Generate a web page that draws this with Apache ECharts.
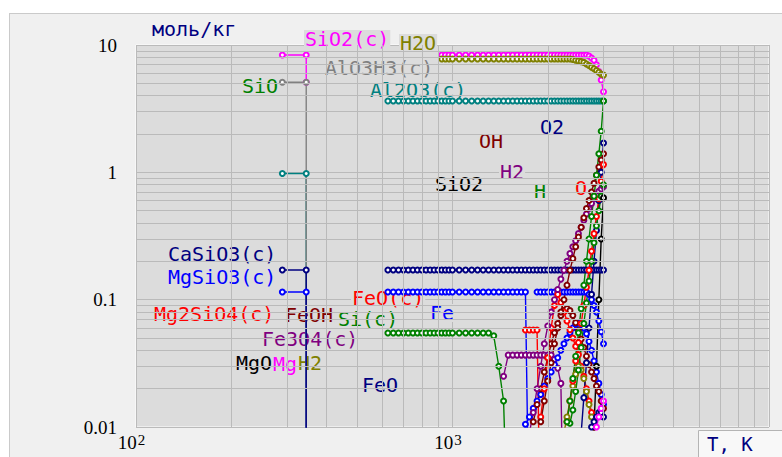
<!DOCTYPE html>
<html>
<head>
<meta charset="utf-8">
<style>
  html, body { margin: 0; padding: 0; background: #fff; }
  #panel { position: absolute; left: 9px; top: 13px; width: 772px; height: 443px; background: #f0f0f0; border: 1px solid #cacaca; }
  #chart { position: absolute; left: 0; top: 0; width: 782px; height: 457px; }
</style>
<script src="https://cdn.jsdelivr.net/npm/echarts@6.0.0/dist/echarts.min.js"></script>
</head>
<body>
<div id="panel"></div>
<div id="chart"></div>
<script>
const _ = null;

// temperatures, K
const T_LOW = [290, 345, 345];
const T_HIGH = [
  625, 650, 675, 700, 725, 750, 775, 800, 825, 850, 875, 900, 925, 950, 975, 1000,
  1050, 1100, 1150, 1200, 1250, 1300, 1350, 1400, 1450, 1500, 1550, 1600, 1650, 1700, 1750, 1800, 1850, 1900, 1950, 2000,
  2050, 2100, 2150, 2200, 2250, 2300, 2350, 2400, 2450, 2500, 2550, 2600, 2650, 2700, 2750, 2800, 2850, 2900, 2950, 3000
];

// low temperature group, mol/kg (0.001 = gone, below the chart)
const LOW_AL2O3 = [0.98, 0.98, 0.001];
const LOW_MGSIO3 = [0.115, 0.115, 0.001];
const LOW_SIO2_C = [8.34, 8.34, 5.1];
const LOW_ALO3H3 = [5.1, 5.1, 0.001];
const LOW_CASIO3 = [0.171, 0.171, 0.001];

// high temperature group, mol/kg
const AL2O3_C = [
  3.63, 3.63, 3.63, 3.63, 3.63, 3.63, 3.63, 3.63, 3.63, 3.63, 3.63, 3.63, 3.63, 3.63, 3.63, 3.63,
  3.63, 3.63, 3.63, 3.63, 3.63, 3.63, 3.63, 3.63, 3.63, 3.63, 3.63, 3.63, 3.63, 3.63, 3.63, 3.63, 3.63, 3.63, 3.63, 3.63,
  3.63, 3.63, 3.63, 3.63, 3.63, 3.63, 3.63, 3.63, 3.63, 3.63, 3.63, 3.63, 3.63, 3.63, 3.63, 3.63, 3.63, 3.63, 3.63, 3.63
];
const SIO2_C = [
  _, _, _, _, _, _, _, _, _, _, _, _, 8.34, 8.34, 8.34, 8.34,
  8.34, 8.34, 8.34, 8.34, 8.34, 8.34, 8.34, 8.34, 8.34, 8.34, 8.34, 8.34, 8.34, 8.34, 8.34, 8.34, 8.34, 8.34, 8.34, 8.34,
  8.34, 8.34, 8.34, 8.34, 8.34, 8.34, 8.34, 8.34, 8.34, 8.34, 8.34, 8.34, 8.34, 8.2, 7.9, 7.6, 7.0, 6.2, 5.3, 4.3
];
const H2O = [
  _, _, _, _, _, _, _, _, _, _, _, _, 7.76, 7.76, 7.76, 7.76,
  7.76, 7.76, 7.76, 7.76, 7.76, 7.76, 7.76, 7.76, 7.76, 7.76, 7.76, 7.76, 7.76, 7.76, 7.76, 7.76, 7.76, 7.76, 7.76, 7.76,
  7.76, 7.76, 7.76, 7.76, 7.76, 7.76, 7.76, 7.7, 7.6, 7.5, 7.4, 7.3, 7.1, 6.9, 6.7, 6.5, 6.3, 6.1, 5.9, 5.8
];
const CASIO3_C = [
  0.171, 0.171, 0.171, 0.171, 0.171, 0.171, 0.171, 0.171, 0.171, 0.171, 0.171, 0.171, 0.171, 0.171, 0.171, 0.171,
  0.171, 0.171, 0.171, 0.171, 0.171, 0.171, 0.171, 0.171, 0.171, 0.171, 0.171, 0.171, 0.171, 0.171, 0.171, 0.171, 0.171, 0.171, 0.171, 0.171,
  0.171, 0.171, 0.171, 0.171, 0.171, 0.171, 0.171, 0.171, 0.171, 0.171, 0.171, 0.171, 0.171, 0.171, 0.171, 0.171, 0.171, 0.171, 0.171, 0.171
];
const MGSIO3_C = [
  0.115, 0.115, 0.115, 0.115, 0.115, 0.115, 0.115, 0.115, 0.115, 0.115, 0.115, 0.115, 0.115, 0.115, 0.115, 0.115,
  0.115, 0.115, 0.115, 0.115, 0.115, 0.115, 0.115, 0.115, 0.115, 0.115, 0.115, 0.115, 0.115, 0.115, 0.001, _, 0.115, 0.115, 0.115, 0.115,
  0.115, 0.115, 0.115, 0.115, 0.115, 0.115, 0.115, 0.115, 0.115, 0.115, 0.115, 0.115, 0.115, 0.11, 0.1, 0.09, 0.08, 0.068, 0.056, 0.045
];
const SI_C = [
  0.0547, 0.0547, 0.0547, 0.0547, 0.0547, 0.0547, 0.0547, 0.0547, 0.0547, 0.0547, 0.0547, 0.0547, 0.0547, 0.0547, 0.0547, 0.0547,
  0.0547, 0.0547, 0.0547, 0.0547, 0.0547, 0.0547, 0.052, 0.03, 0.016, 0.001
];
const FEO_C = [
  _, _, _, _, _, _, _, _, _, _, _, _, _, _, _, _,
  _, _, _, _, _, _, _, _, _, _, _, _, _, 0.0577, 0.0577, 0.0577, 0.0577, 0.001
];
const FE3O4_C = [
  _, _, _, _, _, _, _, _, _, _, _, _, _, _, _, _,
  _, _, _, _, _, _, _, _, 0.025, 0.0367, 0.0367, 0.0367, 0.0367, 0.0367, 0.0367, 0.0367, 0.0367, 0.0367, 0.0367, 0.0367,
  0.0367, 0.034, 0.029, 0.022, 0.001
];
const FE = [
  _, _, _, _, _, _, _, _, _, _, _, _, _, _, _, _,
  _, _, _, _, _, _, _, _, _, _, _, _, _, 0.0105, 0.012, 0.014, 0.016, 0.018, 0.021, 0.024,
  0.027, 0.031, 0.035, 0.04, 0.045, 0.05, 0.055, 0.06, 0.064, 0.066, 0.064, 0.06, 0.054, 0.047, 0.04, 0.033, 0.027, 0.022, 0.018, 0.015
];
const FEOH = [
  _, _, _, _, _, _, _, _, _, _, _, _, _, _, _, _,
  _, _, _, _, _, _, _, _, _, _, _, _, _, _, _, 0.011, 0.015, 0.02, 0.027, 0.035,
  0.045, 0.055, 0.065, 0.075, 0.082, 0.085, 0.082, 0.075, 0.066, 0.057, 0.049, 0.042, 0.036, 0.031, 0.027, 0.024, 0.021, 0.019, 0.016, 0.014
];
const FEO_L = [
  _, _, _, _, _, _, _, _, _, _, _, _, _, _, _, _,
  _, _, _, _, _, _, _, _, _, _, _, _, _, _, _, _, _, 0.012, 0.02, 0.035,
  0.06, 0.09, 0.11, 0.095, 0.08, 0.068, 0.058, 0.05, 0.043, 0.037, 0.03, 0.025, 0.02, 0.016, 0.013, 0.01, 0.008
];
const H2_OLIVE = [
  _, _, _, _, _, _, _, _, _, _, _, _, _, _, _, _,
  _, _, _, _, _, _, _, _, _, _, _, _, _, _, _, _, _, _, _, _,
  _, _, _, _, 0.009, 0.012, 0.016, 0.021, 0.026, 0.03, 0.028, 0.024, 0.019, 0.015, 0.012, 0.0095
];
const H2 = [
  _, _, _, _, _, _, _, _, _, _, _, _, _, _, _, _,
  _, _, _, _, _, _, _, _, _, _, _, _, _, _, 0.009, 0.013, 0.02, 0.03, 0.045, 0.062,
  0.08, 0.1, 0.12, 0.145, 0.17, 0.2, 0.23, 0.26, 0.29, 0.33, 0.37, 0.42, 0.47, 0.52, 0.57, 0.62, 0.67, 0.71, 0.74, 0.77
];
const OH = [
  _, _, _, _, _, _, _, _, _, _, _, _, _, _, _, _,
  _, _, _, _, _, _, _, _, _, _, _, _, _, _, _, _, _, 0.011, 0.016, 0.023,
  0.032, 0.045, 0.06, 0.08, 0.1, 0.13, 0.17, 0.21, 0.26, 0.31, 0.37, 0.44, 0.52, 0.6, 0.7, 0.82, 0.95, 1.1, 1.25, 1.4
];
const O2 = [
  _, _, _, _, _, _, _, _, _, _, _, _, _, _, _, _,
  _, _, _, _, _, _, _, _, _, _, _, _, _, _, _, _, _, _, _, _,
  _, _, _, _, _, _, _, _, _, _, 0.009, 0.017, 0.032, 0.06, 0.11, 0.2, 0.35, 0.6, 1.0, 1.7
];
const O = [
  _, _, _, _, _, _, _, _, _, _, _, _, _, _, _, _,
  _, _, _, _, _, _, _, _, _, _, _, _, _, _, _, _, _, _, _, _,
  _, _, _, _, _, 0.011, 0.016, 0.023, 0.033, 0.046, 0.065, 0.09, 0.125, 0.17, 0.24, 0.33, 0.45, 0.62, 0.85, 1.15
];
const SIO = [
  _, _, _, _, _, _, _, _, _, _, _, _, _, _, _, _,
  _, _, _, _, _, _, _, _, _, _, _, _, _, _, _, _, _, _, _, _,
  _, _, _, _, _, _, 0.0107, 0.0136, 0.019, 0.028, 0.042, 0.065, 0.094, 0.14, 0.2, 0.28, 0.38, 0.5, 0.65, 0.8
];
const SIO2 = [
  _, _, _, _, _, _, _, _, _, _, _, _, _, _, _, _,
  _, _, _, _, _, _, _, _, _, _, _, _, _, _, _, _, _, _, _, _,
  _, _, _, _, _, _, _, _, _, _, _, _, _, _, _, 0.01, 0.03, 0.1, 0.3, 0.63
];
const FEO = [
  _, _, _, _, _, _, _, _, _, _, _, _, _, _, _, _,
  _, _, _, _, _, _, _, _, _, _, _, _, _, _, _, _, _, _, _, _,
  _, _, _, _, _, _, _, _, _, _, _, _, _, 0.009, 0.01, 0.011, 0.012, 0.013, 0.013, 0.012
];
const MG = [
  _, _, _, _, _, _, _, _, _, _, _, _, _, _, _, _,
  _, _, _, _, _, _, _, _, _, _, _, _, _, _, _, _, _, _, _, _,
  _, _, _, _, _, _, _, _, _, _, _, _, _, _, _, 0.009, 0.01, 0.012, 0.014, 0.016
];
const H = [
  _, _, _, _, _, _, _, _, _, _, _, _, _, _, _, _,
  _, _, _, _, _, _, _, _, _, _, _, _, _, _, _, _, _, _, _, _,
  _, _, _, _, _, 0.011, 0.016, 0.024, 0.036, 0.055, 0.085, 0.13, 0.2, 0.3, 0.45, 0.65, 0.95, 1.4, 2.1, 3.63
];

// axis ticks
const X_TICK_EXP = [2, 3];
const Y_TICK_TEXT = ['0.01', '0.1', '1', '10'];
const GRID_X_MINOR = [200, 300, 400, 500, 600, 700, 800, 900, 2000, 3000, 4000, 5000, 6000, 7000, 8000, 9000];
const GRID_Y_MINOR = [0.02, 0.03, 0.04, 0.05, 0.06, 0.07, 0.08, 0.09,
  0.2, 0.3, 0.4, 0.5, 0.6, 0.7, 0.8, 0.9, 2, 3, 4, 5, 6, 7, 8, 9];

const MAGENTA = '#ff00ff', OLIVE = '#808000', GREY = '#808080', TEAL = '#008080',
  NAVY = '#000080', BLUE = '#0000ff', RED = '#ff0000', DARKRED = '#800000',
  GREEN = '#008000', PURPLE = '#800080', BLACK = '#000000';
const PLOT_BG = '#dcdcdc';
const GRID_COLOR = '#bababa';
const MONO = 'DejaVu Sans Mono';

function mk(name, color, temps, vals) {
  return {
    type: 'line',
    name: name,
    data: temps.map((t, i) => [t, vals[i] == null ? null : vals[i]]),
    symbol: 'emptyCircle',
    symbolSize: 5,
    showSymbol: true,
    lineStyle: { color: color, width: 1.4 },
    itemStyle: { color: color, borderWidth: 1.2 },
    silent: true,
    animation: false,
    z: 2
  };
}

const series = [
  {
    type: 'line', data: [], z: 0, silent: true, animation: false,
    markLine: {
      silent: true, animation: false, symbol: ['none', 'none'],
      label: { show: false },
      lineStyle: { color: GRID_COLOR, width: 1, type: 'solid' },
      data: GRID_X_MINOR.map(v => ({ xAxis: v })).concat(GRID_Y_MINOR.map(v => ({ yAxis: v })))
    }
  },
  mk('Al2O3(c) low', TEAL, T_LOW, LOW_AL2O3),
  mk('MgSiO3(c) low', BLUE, T_LOW, LOW_MGSIO3),
  mk('SiO2(c) low', MAGENTA, T_LOW, LOW_SIO2_C),
  mk('AlO3H3(c)', GREY, T_LOW, LOW_ALO3H3),
  mk('CaSiO3(c) low', NAVY, T_LOW, LOW_CASIO3),
  mk('Al2O3(c)', TEAL, T_HIGH, AL2O3_C),
  mk('SiO2(c)', MAGENTA, T_HIGH, SIO2_C),
  mk('H2O', OLIVE, T_HIGH, H2O),
  mk('CaSiO3(c)', NAVY, T_HIGH, CASIO3_C),
  mk('MgSiO3(c)', BLUE, T_HIGH, MGSIO3_C),
  mk('Si(c)', GREEN, T_HIGH, SI_C),
  mk('FeO(c)', RED, T_HIGH, FEO_C),
  mk('Fe3O4(c)', PURPLE, T_HIGH, FE3O4_C),
  mk('Fe', BLUE, T_HIGH, FE),
  mk('FeOH', DARKRED, T_HIGH, FEOH),
  mk('FeO(l)', RED, T_HIGH, FEO_L),
  mk('H2 (olive)', OLIVE, T_HIGH, H2_OLIVE),
  mk('H2', PURPLE, T_HIGH, H2),
  mk('OH', DARKRED, T_HIGH, OH),
  mk('O2', NAVY, T_HIGH, O2),
  mk('O', RED, T_HIGH, O),
  mk('SiO', GREEN, T_HIGH, SIO),
  mk('SiO2', BLACK, T_HIGH, SIO2),
  mk('FeO', NAVY, T_HIGH, FEO),
  mk('Mg', MAGENTA, T_HIGH, MG),
  mk('H', GREEN, T_HIGH, H)
];

// curve labels: text, colour, left x, cap centre y
const LABELS = [
  ['Al2O3(c)', TEAL, 370, 89],
  ['AlO3H3(c)', GREY, 325, 67],
  ['SiO2(c)', MAGENTA, 305, 38],
  ['H2O', OLIVE, 400, 42],
  ['SiO', GREEN, 242, 85],
  ['OH', DARKRED, 479, 140],
  ['O2', NAVY, 540, 126],
  ['H2', PURPLE, 500, 171],
  ['SiO2', BLACK, 435, 183],
  ['H', GREEN, 534, 190],
  ['O', RED, 575, 187],
  ['CaSiO3(c)', NAVY, 168, 253],
  ['MgSiO3(c)', BLUE, 168, 276],
  ['FeO(c)', RED, 352, 297],
  ['Fe', BLUE, 430, 312],
  ['Si(c)', GREEN, 338, 318],
  ['Mg2SiO4(c)', RED, 154, 313],
  ['FeOH', DARKRED, 285, 314],
  ['Fe3O4(c)', PURPLE, 262, 338],
  ['MgO', BLACK, 236, 362],
  ['Mg', MAGENTA, 273, 363],
  ['H2', OLIVE, 298, 362],
  ['FeO', NAVY, 362, 384]
];

const graphic = LABELS.map(l => ({
  type: 'text',
  z: 1,
  silent: true,
  x: l[2] - 1,
  y: l[3] + 1,
  style: {
    text: l[0], fill: l[1], font: '20px "' + MONO + '"',
    align: 'left', verticalAlign: 'middle', lineHeight: 18,
    backgroundColor: PLOT_BG, padding: [0, 1, 0, 1]
  }
}));
graphic.push(
  {
    type: 'text', z: 1, silent: true, x: 152, y: 29,
    style: { text: 'моль/кг', fill: NAVY, font: '20px "' + MONO + '"', align: 'left', verticalAlign: 'middle' }
  },
  {
    type: 'rect', z: 1, silent: true,
    shape: { x: 698.5, y: 430.5, width: 90, height: 30 },
    style: { fill: '#f8f8f8', stroke: '#b4b4b4', lineWidth: 1 }
  },
  {
    type: 'text', z: 2, silent: true, x: 707, y: 444,
    style: { text: 'T, K', fill: NAVY, font: '19px "' + MONO + '"', align: 'left', verticalAlign: 'middle' }
  }
);

const chart = echarts.init(document.getElementById('chart'), null, { renderer: 'svg' });
chart.setOption({
  animation: false,
  backgroundColor: 'transparent',
  grid: {
    left: 136, top: 45, width: 633, height: 382,
    show: true, backgroundColor: PLOT_BG, borderColor: '#ffffff', borderWidth: 1,
    containLabel: false
  },
  xAxis: {
    type: 'log', logBase: 10, min: 100, max: 10000,
    axisLine: { show: false }, axisTick: { show: false },
    splitLine: { show: true, lineStyle: { color: GRID_COLOR, width: 1 } },
    axisLabel: {
      margin: 5,
      padding: [0, 9, 0, 0],
      formatter: function (v) {
        const e = Math.round(Math.log10(v));
        return X_TICK_EXP.indexOf(e) < 0 ? '' : '{b|10}{s|' + e + '}';
      },
      rich: {
        b: { fontFamily: 'Liberation Serif', fontSize: 19, color: '#000', lineHeight: 20, verticalAlign: 'bottom' },
        s: { fontFamily: 'Liberation Serif', fontSize: 15, color: '#000', lineHeight: 14, verticalAlign: 'top', padding: [0, 0, 0, 1] }
      }
    }
  },
  yAxis: {
    type: 'log', logBase: 10, min: 0.01, max: 10,
    axisLine: { show: false }, axisTick: { show: false },
    splitLine: { show: true, lineStyle: { color: GRID_COLOR, width: 1 } },
    axisLabel: {
      margin: 19,
      padding: [0, 0, 12, 0],
      fontFamily: 'Liberation Serif', fontSize: 19, color: '#000',
      formatter: function (v) {
        return Y_TICK_TEXT[Math.round(Math.log10(v)) + 2] || '';
      }
    }
  },
  graphic: graphic,
  series: series
});
</script>
</body>
</html>
